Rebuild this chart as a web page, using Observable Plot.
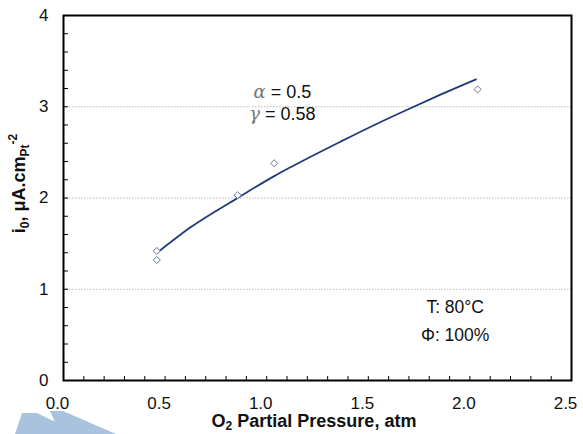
<!DOCTYPE html>
<html>
<head>
<meta charset="utf-8">
<script src="https://cdn.jsdelivr.net/npm/d3@7"></script>
<script src="https://cdn.jsdelivr.net/npm/@observablehq/plot@0.6"></script>
<style>
  html, body { margin: 0; padding: 0; background: #fff; }
  svg text { font-family: "Liberation Sans", Arial, sans-serif; }
</style>
</head>
<body>
<div id="chart"></div>
<script>
// ---- data ----
const pressure = [0.459, 0.459, 0.857, 1.037, 2.038];      // O2 partial pressure, atm
const current  = [1.42, 1.32, 2.03, 2.38, 3.19];           // i0, uA.cm_Pt^-2

const fitPressure = [0.459, 0.627, 0.857, 1.037, 1.12, 1.366, 1.53, 1.694, 1.858, 2.03];
const fitCurrent  = [1.396, 1.681, 2.0, 2.24, 2.34, 2.62, 2.80, 2.97, 3.135, 3.30];

const xTicks = [0, 0.5, 1.0, 1.5, 2.0, 2.5];
const yTicks = [0, 1, 2, 3, 4];
const gridY = [1, 2, 3];
const xMinor = d3.range(0, 26).map(i => i / 10);
const yMinor = d3.range(0, 21).map(i => i / 5);

const annotations = [
  {x: 1.08, y: 3.16, sym: "α", text: " = 0.5"},
  {x: 1.08, y: 2.92, sym: "γ", text: " = 0.58"}
];
const conditions = [
  {x: 1.93, y: 0.80, text: "T: 80°C"},
  {x: 1.93, y: 0.49, text: "Φ: 100%"}
];

const points = pressure.map((p, i) => ({p, i0: current[i]}));
const fit = fitPressure.map((p, i) => ({p, i0: fitCurrent[i]}));

const plot = Plot.plot({
  width: 583,
  height: 434,
  marginLeft: 63,
  marginRight: 12,
  marginTop: 15,
  marginBottom: 54,
  style: {fontFamily: "'Liberation Sans', Arial, sans-serif", fontSize: "17px", background: "#fff", color: "#000"},
  x: {domain: [0, 2.5]},
  y: {domain: [0, 4]},
  marks: [
    Plot.ruleY(gridY, {stroke: "#b8b8b8", strokeWidth: 1, strokeDasharray: "1.5,1.5"}),
    Plot.axisY(yMinor, {tickSize: 5, dx: 5, tickFormat: () => "", label: null, stroke: "#000"}),
    Plot.axisX(xMinor, {tickSize: 4, dy: -4, tickFormat: () => "", label: null, stroke: "#000"}),
    Plot.axisY(yTicks, {tickSize: 0, tickPadding: 15, tickFormat: d3.format("d"), label: null, fontSize: 17, fill: "#111"}),
    Plot.axisX(xTicks, {tickSize: 0, tickPadding: 16, dx: -6, tickFormat: d3.format(".1f"), label: null, fontSize: 17, fill: "#111"}),
    Plot.line(fit, {x: "p", y: "i0", stroke: "#1e3a78", strokeWidth: 1.8, curve: "monotone-x"}),
    Plot.dot(points, {x: "p", y: "i0", symbol: "diamond2", r: 3.2, stroke: "#68789a", strokeWidth: 1, fill: "#fff"}),
    Plot.frame({stroke: "#000", strokeWidth: 2})
  ]
});

document.getElementById("chart").appendChild(plot);

const svg = d3.select(plot);
const sx = plot.scale("x").apply, sy = plot.scale("y").apply;

// annotations (alpha / gamma)
annotations.forEach(a => {
  const t = svg.append("text")
    .attr("x", sx(a.x)).attr("y", sy(a.y)).attr("dy", "0.35em")
    .attr("font-size", 18).attr("fill", "#111");
  t.append("tspan").text(a.sym)
    .attr("font-family", "'DejaVu Serif', 'Liberation Serif', serif")
    .attr("font-style", "italic").attr("fill", "#777");
  t.append("tspan").text(a.text);
});

conditions.forEach(c => {
  svg.append("text")
    .attr("x", sx(c.x)).attr("y", sy(c.y)).attr("dy", "0.35em")
    .attr("font-size", 17.5).attr("fill", "#111").text(c.text);
});

// y-axis title
const yt = svg.append("text")
  .attr("transform", `translate(25,${(sy(0) + sy(4)) / 2 - 14}) rotate(-90)`)
  .attr("text-anchor", "middle").attr("font-weight", "bold").attr("font-size", 18).attr("fill", "#111");
yt.append("tspan").text("i");
yt.append("tspan").text("0").attr("font-size", 12).attr("dy", 4);
yt.append("tspan").text(", μA.cm").attr("dy", -4);
yt.append("tspan").text("Pt").attr("font-size", 12).attr("dy", 4);
yt.append("tspan").text("-2").attr("font-size", 12).attr("dy", -12);

// x-axis title
const xt = svg.append("text")
  .attr("x", (sx(0) + sx(2.5)) / 2 - 3).attr("y", 427)
  .attr("text-anchor", "middle").attr("font-weight", "bold").attr("font-size", 18).attr("fill", "#111");
xt.append("tspan").text("O");
xt.append("tspan").text("2").attr("font-size", 12).attr("dy", 3);
xt.append("tspan").text(" Partial Pressure, atm").attr("dy", -3);

// faint watermark shapes at bottom-left
svg.insert("path", ":first-child")
  .attr("d", "M22,413 L37,413 L80,434 L15,434 Z M50,411 L63,411 L116,434 L60,434 Z")
  .attr("fill", "#a9c2de");
</script>
</body>
</html>
